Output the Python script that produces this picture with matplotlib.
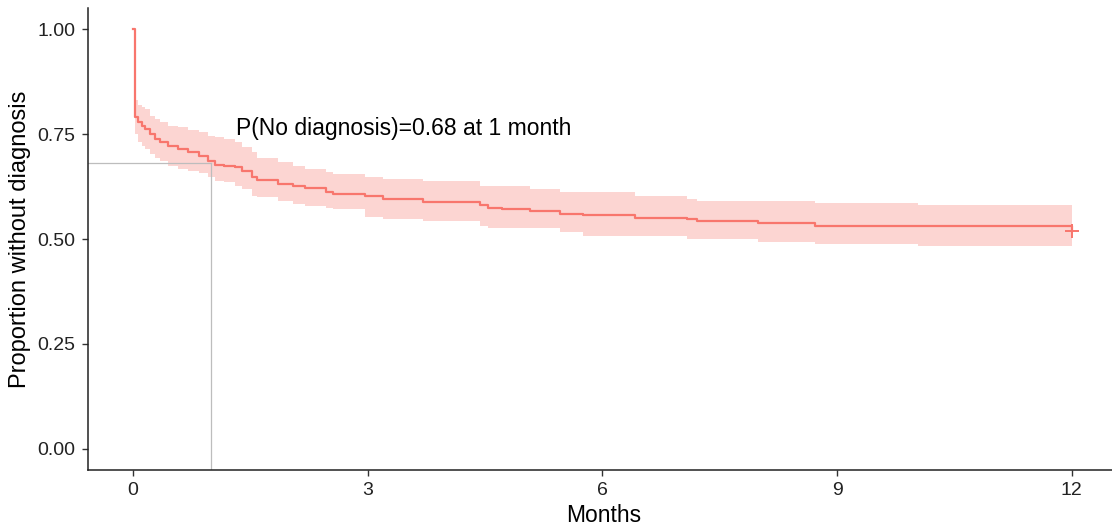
import numpy as np
import matplotlib.pyplot as plt

plt.rcParams['font.family'] = ['Liberation Sans', 'DejaVu Sans']

# Kaplan-Meier estimate (months, survival, 95% band)
months = [0.00, 0.02, 0.03, 0.07, 0.11, 0.15, 0.22, 0.28, 0.35, 0.45, 0.58,
          0.71, 0.84, 0.96, 1.05, 1.17, 1.30, 1.39, 1.52, 1.58, 1.85, 2.04,
          2.20, 2.47, 2.56, 2.96, 3.19, 3.71, 4.43, 4.54, 4.72, 5.07, 5.46,
          5.75, 6.42, 7.08, 7.21, 7.99, 8.72, 10.03, 12.00]
surv = [1.000, 0.805, 0.790, 0.778, 0.770, 0.762, 0.750, 0.738, 0.730, 0.722,
        0.714, 0.706, 0.698, 0.686, 0.676, 0.673, 0.671, 0.663, 0.647, 0.640,
        0.631, 0.627, 0.621, 0.611, 0.607, 0.602, 0.595, 0.589, 0.581, 0.575,
        0.571, 0.567, 0.559, 0.556, 0.549, 0.548, 0.542, 0.539, 0.532, 0.532,
        0.519]
upper = [1.000, 0.835, 0.830, 0.820, 0.815, 0.810, 0.794, 0.785, 0.778, 0.770,
         0.766, 0.760, 0.755, 0.746, 0.742, 0.738, 0.730, 0.720, 0.706, 0.694,
         0.683, 0.675, 0.667, 0.659, 0.655, 0.647, 0.643, 0.639, 0.627, 0.627,
         0.627, 0.619, 0.611, 0.611, 0.603, 0.595, 0.591, 0.591, 0.585, 0.582,
         0.582]
lower = [1.000, 0.760, 0.750, 0.730, 0.722, 0.714, 0.702, 0.692, 0.686, 0.675,
         0.667, 0.662, 0.658, 0.647, 0.639, 0.635, 0.627, 0.619, 0.603, 0.599,
         0.591, 0.583, 0.579, 0.575, 0.571, 0.552, 0.548, 0.544, 0.532, 0.526,
         0.526, 0.526, 0.516, 0.508, 0.508, 0.500, 0.500, 0.492, 0.487, 0.484,
         0.484]

t_ref = 1
p_ref = 0.68
label = f"P(No diagnosis)={p_ref:.2f} at {t_ref} month"

red = "#F8766D"

fig = plt.figure(figsize=(11.12, 5.31), dpi=100)
ax = fig.add_axes([0.0791, 0.1149, 0.927, 0.870])

ax.fill_between(months, lower, upper, step="post", color=red, alpha=0.3,
                linewidth=0)
ax.step(months, surv, where="post", color=red, lw=1.6)
ax.plot(months[-1], surv[-1], marker="+", color=red, ms=10, mew=1.4)

# reference lines at 1 month
ax.plot([-0.6, t_ref], [p_ref, p_ref], color="#BDBDBD", lw=0.9)
ax.plot([t_ref, t_ref], [-0.05, p_ref], color="#BDBDBD", lw=0.9)
ax.text(1.32, 0.762, label, fontsize=16.5, color="black", va="center",
        ha="left")

ax.set_xlim(-0.575, 12.6)
ax.set_ylim(-0.05, 1.05)
ax.set_xticks([0, 3, 6, 9, 12])
ax.set_yticks([0, 0.25, 0.5, 0.75, 1.0])
ax.set_yticklabels(["0.00", "0.25", "0.50", "0.75", "1.00"])
ax.tick_params(labelsize=14, colors="#333333", length=4, width=1, pad=5)
ax.tick_params(labelcolor="#222222")
for side in ["top", "right"]:
    ax.spines[side].set_visible(False)
for side in ["left", "bottom"]:
    ax.spines[side].set_color("#222222")
    ax.spines[side].set_linewidth(1.1)

ax.set_xlabel("Months", fontsize=16.5, labelpad=3)
ax.set_ylabel("Proportion without diagnosis", fontsize=17, labelpad=5)

fig.savefig("out.png", dpi=100)
